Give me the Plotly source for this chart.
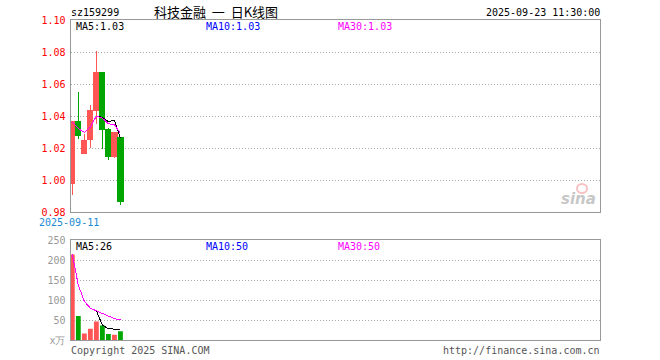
import plotly.graph_objects as go

# ---------------- data ----------------
dates = ["2025-09-11", "2025-09-12", "2025-09-15", "2025-09-16", "2025-09-17",
         "2025-09-18", "2025-09-19", "2025-09-22", "2025-09-23"]
open_ = [0.998, 1.0363, 1.0167, 1.0254, 1.0433, 1.0675, 1.0313, 1.0148, 1.0263]
high = [1.0363, 1.055, 1.0288, 1.0467, 1.0808, 1.0675, 1.0325, 1.0296, 1.0263]
low = [0.9904, 1.0258, 1.0163, 1.020, 1.035, 1.0192, 1.0125, 1.0138, 0.9842]
close = [1.0363, 1.0279, 1.025, 1.0433, 1.0675, 1.0317, 1.0148, 1.0296, 0.9867]
volume = [214, 60, 16, 28, 46, 36, 15, 13, 22]  # 万

price_ticks = [0.98, 1.00, 1.02, 1.04, 1.06, 1.08, 1.10]
vol_ticks = [0, 50, 100, 150, 200, 250]
vol_tick_text = ["x万", "50", "100", "150", "200", "250"]

RED = "#ff5555"
GREEN = "#00a600"
MONO = "DejaVu Sans Mono"

W, H = 660, 360


def px_x(p):
    return p / W


def px_y(p):
    return 1 - p / H


def mavg(vals, n):
    out = []
    for i in range(len(vals)):
        win = vals[max(0, i - n + 1): i + 1]
        out.append(sum(win) / len(win))
    return out


idx = list(range(len(dates)))
ma5, ma10, ma30 = mavg(close, 5), mavg(close, 10), mavg(close, 30)
vma5, vma10, vma30 = mavg(volume, 5), mavg(volume, 10), mavg(volume, 30)

fig = go.Figure()

fig.add_trace(go.Candlestick(
    x=idx, open=open_, high=high, low=low, close=close,
    increasing=dict(line=dict(color=RED, width=1), fillcolor=RED),
    decreasing=dict(line=dict(color=GREEN, width=1), fillcolor=GREEN),
    whiskerwidth=0, xaxis="x", yaxis="y", hoverinfo="skip", showlegend=False,
))
for vals, col in [(ma5, "black"), (ma10, "blue"), (ma30, "magenta")]:
    fig.add_trace(go.Scatter(x=idx, y=vals, mode="lines", line=dict(color=col, width=1),
                             xaxis="x", yaxis="y", hoverinfo="skip", showlegend=False))

vcolors = [RED if c >= o else GREEN for o, c in zip(open_, close)]
fig.add_trace(go.Bar(x=idx, y=volume, marker=dict(color=vcolors, line=dict(width=0)),
                     width=0.8, xaxis="x2", yaxis="y2", hoverinfo="skip", showlegend=False))
for vals, col in [(vma5, "black"), (vma10, "blue"), (vma30, "magenta")]:
    fig.add_trace(go.Scatter(x=idx, y=vals, mode="lines", line=dict(color=col, width=1),
                             xaxis="x2", yaxis="y2", hoverinfo="skip", showlegend=False))

xdom = [px_x(70.5), px_x(599.5)]
xrange_ = [-0.3, 87.6]
common_x = dict(domain=xdom, range=xrange_, showticklabels=False, showgrid=False,
                zeroline=False, showline=True, mirror=True, linecolor="#999999",
                linewidth=1, ticks="", fixedrange=True)
common_y = dict(showgrid=True, gridcolor="#a8a8a8", griddash="1px,2px", gridwidth=1,
                zeroline=False, showline=True, mirror=True, linecolor="#999999",
                linewidth=1, ticks="", fixedrange=True, ticklabelstandoff=2)

fig.update_layout(
    width=W, height=H, margin=dict(l=0, r=0, t=0, b=0, autoexpand=False),
    paper_bgcolor="white", plot_bgcolor="white",
    boxgap=0.1, boxgroupgap=0.05,
    xaxis=dict(**common_x, anchor="y", rangeslider=dict(visible=False)),
    yaxis=dict(**common_y, domain=[px_y(212), px_y(20)], range=[0.98, 1.10],
               tickvals=price_ticks, ticktext=[f"{v:.2f}" for v in price_ticks],
               tickfont=dict(family=MONO, size=10, color="#ff0000"), anchor="x"),
    xaxis2=dict(**common_x, anchor="y2"),
    yaxis2=dict(**common_y, domain=[px_y(340), px_y(240)], range=[0, 250],
                tickvals=vol_ticks, ticktext=vol_tick_text,
                tickfont=dict(family=MONO, size=10, color="#999999"), anchor="x2"),
    bargap=0.1,
)

ann = []


def text(x, y, s, color="#000", size=10, family=MONO, anchor="left"):
    ann.append(dict(x=px_x(x), y=px_y(y), xref="paper", yref="paper", text=s,
                    showarrow=False, xanchor=anchor, yanchor="middle",
                    font=dict(family=family, size=size, color=color)))


NB = "\u00a0"
text(69, 13, "sz159299")
text(152, 12, "科技金融" + NB * 2 + "一" + NB * 2 + "日K线图", size=13, family="Noto Sans CJK SC")
text(602, 13, "2025-09-23 11:30:00", anchor="right")
text(74, 27, f"MA5:{ma5[-1]:.2f}")
text(204, 27, f"MA10:{ma10[-1]:.2f}", color="blue")
text(336, 27, f"MA30:{ma30[-1]:.2f}", color="magenta")
text(74, 246, f"MA5:{vma5[-1]:.0f}")
text(204, 246, f"MA10:{vma10[-1]:.0f}", color="blue")
text(336, 246, f"MA30:{vma30[-1]:.0f}", color="magenta")
text(69, 222, dates[0], color="#1a8ad4", anchor="center")
text(69, 350, "Copyright 2025 SINA.COM", color="#555555")
text(602, 350, "http://finance.sina.com.cn", color="#555555", anchor="right")
# faint watermark
ann.append(dict(x=px_x(598), y=px_y(199), xref="paper", yref="paper", text="<b><i>sina</i></b>",
                showarrow=False, xanchor="right", yanchor="middle",
                font=dict(family="DejaVu Sans", size=15, color="rgba(150,150,150,0.55)")))
fig.update_layout(annotations=ann)
fig.add_shape(type="circle", xref="paper", yref="paper",
              x0=px_x(577), x1=px_x(587), y0=px_y(193), y1=px_y(184),
              line=dict(color="rgba(240,120,120,0.45)", width=2), fillcolor="rgba(0,0,0,0)")

post = """
document.body.style.margin = '0';
document.body.style.padding = '0';
document.querySelectorAll('.scatterlayer path.js-line, .boxlayer path').forEach(function(p){
  p.style.shapeRendering = 'crispEdges';
});
"""
fig.write_html("out.html", config=dict(displayModeBar=False, staticPlot=True),
               post_script=post)
